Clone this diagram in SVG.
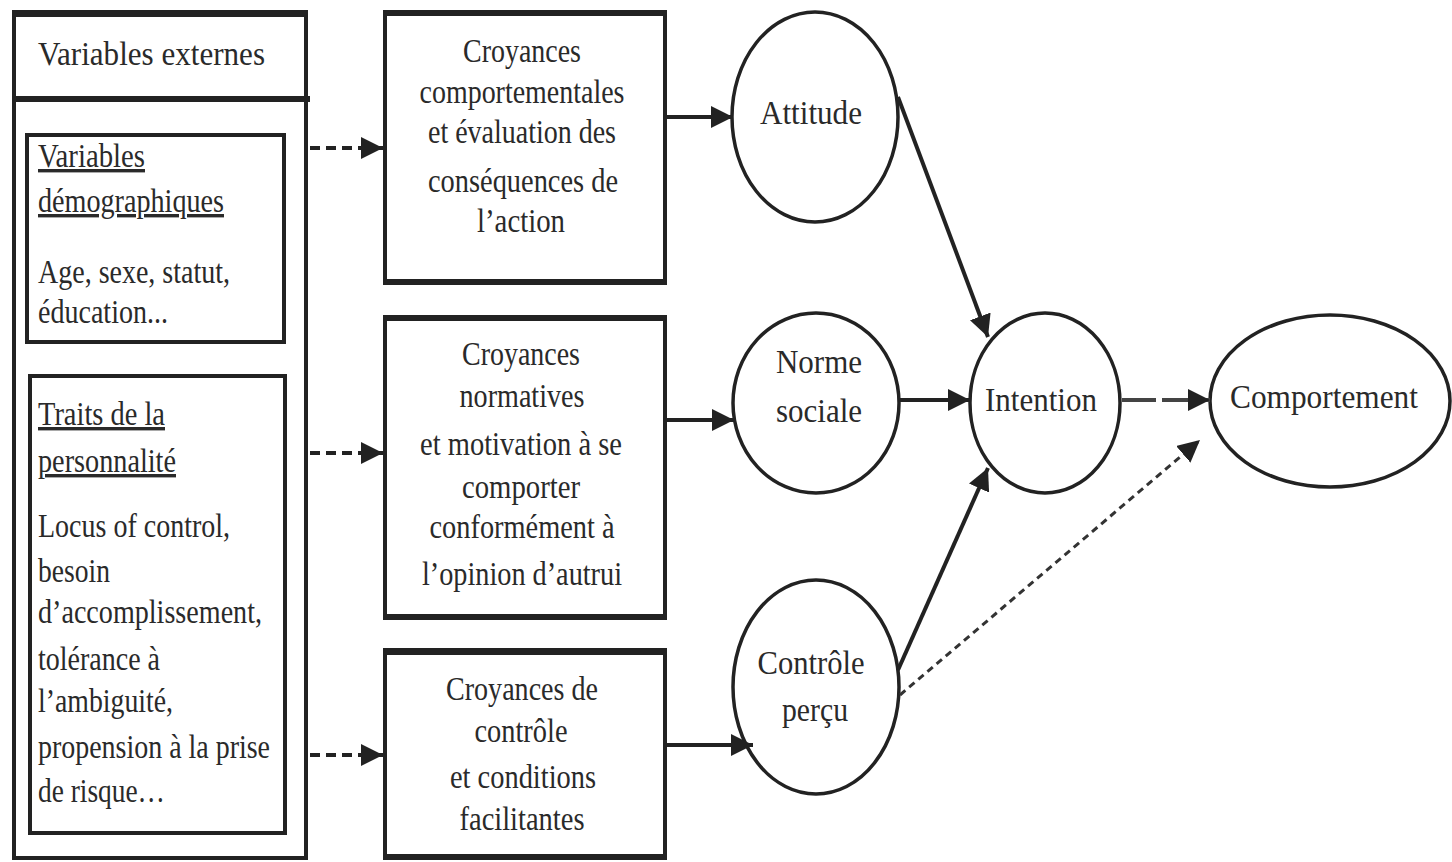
<svg xmlns="http://www.w3.org/2000/svg" width="1452" height="862" viewBox="0 0 1452 862">
  <style>
    .box { fill: #fff; stroke: #222; stroke-width: 4; }
    .edge { stroke: #222; stroke-width: 6; }
    .ell { fill: #fff; stroke: #222; stroke-width: 3.5; }
    .t { font-family: "Liberation Serif", "Times New Roman", serif; font-size: 34px; fill: #2a2a2a; }
    .c { text-anchor: middle; }
    .u { text-decoration: underline; }
    .solid { stroke: #222; stroke-width: 4; fill: none; }
    .dash { stroke: #222; stroke-width: 4; fill: none; stroke-dasharray: 10 6; }
    .longdash { stroke: #444; stroke-width: 4; fill: none; stroke-dasharray: 34 6; }
    .fine { stroke: #333; stroke-width: 3; fill: none; stroke-dasharray: 7 5; }
  </style>
  <defs>
    <marker id="arrow" markerUnits="userSpaceOnUse" markerWidth="24" markerHeight="22" refX="22" refY="11" orient="auto">
      <path d="M0,0 L22,11 L0,22 Z" fill="#222"/>
    </marker>
  </defs>

  <rect width="1452" height="862" fill="#fff"/>

  <!-- External variables panel -->
  <g id="variables-externes">
    <rect class="box" x="14" y="12" width="292" height="846"/>
    <line class="edge" x1="14" y1="14" x2="306" y2="14"/>
    <line class="edge" x1="14" y1="99" x2="310" y2="99"/>
    <text class="t" x="38" y="65" textLength="227" lengthAdjust="spacingAndGlyphs">Variables externes</text>
  </g>

  <g id="variables-demographiques">
    <rect class="box" x="27" y="135" width="257" height="207"/>
    <text class="t u" x="38" y="167" textLength="107" lengthAdjust="spacingAndGlyphs">Variables</text>
    <text class="t u" x="38" y="212" textLength="186" lengthAdjust="spacingAndGlyphs">démographiques</text>
    <text class="t" x="38" y="283" textLength="192" lengthAdjust="spacingAndGlyphs">Age, sexe, statut,</text>
    <text class="t" x="38" y="323" textLength="130" lengthAdjust="spacingAndGlyphs">éducation...</text>
  </g>

  <g id="traits-personnalite">
    <rect class="box" x="30" y="376" width="255" height="457"/>
    <text class="t u" x="38" y="425" textLength="127" lengthAdjust="spacingAndGlyphs">Traits de la</text>
    <text class="t u" x="38" y="472" textLength="138" lengthAdjust="spacingAndGlyphs">personnalité</text>
    <text class="t" x="38" y="537" textLength="192" lengthAdjust="spacingAndGlyphs">Locus of control,</text>
    <text class="t" x="38" y="582" textLength="72" lengthAdjust="spacingAndGlyphs">besoin</text>
    <text class="t" x="38" y="623" textLength="224" lengthAdjust="spacingAndGlyphs">d’accomplissement,</text>
    <text class="t" x="38" y="670" textLength="122" lengthAdjust="spacingAndGlyphs">tolérance à</text>
    <text class="t" x="38" y="712" textLength="135" lengthAdjust="spacingAndGlyphs">l’ambiguité,</text>
    <text class="t" x="38" y="758" textLength="232" lengthAdjust="spacingAndGlyphs">propension à la prise</text>
    <text class="t" x="38" y="802" textLength="127" lengthAdjust="spacingAndGlyphs">de risque…</text>
  </g>

  <!-- Belief boxes -->
  <g id="croyances-comportementales">
    <rect class="box" x="385" y="12" width="280" height="271"/>
    <line class="edge" x1="385" y1="13" x2="665" y2="13"/>
    <line class="edge" x1="385" y1="282" x2="665" y2="282"/>
    <text class="t c" x="522" y="62" textLength="118" lengthAdjust="spacingAndGlyphs">Croyances</text>
    <text class="t c" x="522" y="103" textLength="205" lengthAdjust="spacingAndGlyphs">comportementales</text>
    <text class="t c" x="522" y="143" textLength="188" lengthAdjust="spacingAndGlyphs">et évaluation des</text>
    <text class="t c" x="523" y="192" textLength="190" lengthAdjust="spacingAndGlyphs">conséquences de</text>
    <text class="t c" x="521" y="232" textLength="88" lengthAdjust="spacingAndGlyphs">l’action</text>
  </g>

  <g id="croyances-normatives">
    <rect class="box" x="385" y="317" width="280" height="301"/>
    <line class="edge" x1="385" y1="318" x2="665" y2="318"/>
    <line class="edge" x1="385" y1="617" x2="665" y2="617"/>
    <text class="t c" x="521" y="365" textLength="118" lengthAdjust="spacingAndGlyphs">Croyances</text>
    <text class="t c" x="522" y="407" textLength="125" lengthAdjust="spacingAndGlyphs">normatives</text>
    <text class="t c" x="521" y="455" textLength="202" lengthAdjust="spacingAndGlyphs">et motivation à se</text>
    <text class="t c" x="521" y="498" textLength="118" lengthAdjust="spacingAndGlyphs">comporter</text>
    <text class="t c" x="522" y="538" textLength="185" lengthAdjust="spacingAndGlyphs">conformément à</text>
    <text class="t c" x="522" y="585" textLength="200" lengthAdjust="spacingAndGlyphs">l’opinion d’autrui</text>
  </g>

  <g id="croyances-controle">
    <rect class="box" x="385" y="650" width="280" height="208"/>
    <line class="edge" x1="385" y1="652" x2="665" y2="652"/>
    <line class="edge" x1="385" y1="857" x2="665" y2="857"/>
    <text class="t c" x="522" y="700" textLength="152" lengthAdjust="spacingAndGlyphs">Croyances de</text>
    <text class="t c" x="521" y="742" textLength="93" lengthAdjust="spacingAndGlyphs">contrôle</text>
    <text class="t c" x="523" y="788" textLength="146" lengthAdjust="spacingAndGlyphs">et conditions</text>
    <text class="t c" x="522" y="830" textLength="125" lengthAdjust="spacingAndGlyphs">facilitantes</text>
  </g>

  <!-- Constructs -->
  <g id="attitude">
    <ellipse class="ell" cx="815" cy="117" rx="83" ry="105"/>
    <text class="t c" x="811" y="124" textLength="102" lengthAdjust="spacingAndGlyphs">Attitude</text>
  </g>

  <g id="norme-sociale">
    <ellipse class="ell" cx="816" cy="403" rx="83" ry="90"/>
    <text class="t c" x="819" y="373" textLength="86" lengthAdjust="spacingAndGlyphs">Norme</text>
    <text class="t c" x="819" y="422" textLength="86" lengthAdjust="spacingAndGlyphs">sociale</text>
  </g>

  <g id="controle-percu">
    <ellipse class="ell" cx="816" cy="687" rx="83" ry="107"/>
    <text class="t c" x="811" y="674" textLength="107" lengthAdjust="spacingAndGlyphs">Contrôle</text>
    <text class="t c" x="815" y="721" textLength="66" lengthAdjust="spacingAndGlyphs">perçu</text>
  </g>

  <g id="intention">
    <ellipse class="ell" cx="1045" cy="403" rx="75" ry="90"/>
    <text class="t c" x="1041" y="411" textLength="112" lengthAdjust="spacingAndGlyphs">Intention</text>
  </g>

  <g id="comportement">
    <ellipse class="ell" cx="1330" cy="401" rx="120" ry="86"/>
    <text class="t c" x="1324" y="408" textLength="188" lengthAdjust="spacingAndGlyphs">Comportement</text>
  </g>

  <!-- Connectors -->
  <g id="connectors">
    <line class="dash" x1="310" y1="148" x2="383" y2="148" marker-end="url(#arrow)"/>
    <line class="dash" x1="310" y1="453" x2="383" y2="453" marker-end="url(#arrow)"/>
    <line class="dash" x1="310" y1="755" x2="383" y2="755" marker-end="url(#arrow)"/>

    <line class="solid" x1="667" y1="117" x2="733" y2="117" marker-end="url(#arrow)"/>
    <line class="solid" x1="667" y1="420" x2="734" y2="420" marker-end="url(#arrow)"/>
    <line class="solid" x1="667" y1="745" x2="753" y2="745" marker-end="url(#arrow)"/>

    <line class="solid" x1="898" y1="97" x2="988" y2="337" marker-end="url(#arrow)"/>
    <line class="solid" x1="900" y1="400" x2="970" y2="400" marker-end="url(#arrow)"/>
    <line class="solid" x1="898" y1="670" x2="988" y2="468" marker-end="url(#arrow)"/>

    <line class="longdash" x1="1122" y1="400" x2="1210" y2="400" marker-end="url(#arrow)"/>
    <line class="fine" x1="900" y1="695" x2="1200" y2="440" marker-end="url(#arrow)"/>
  </g>
</svg>
